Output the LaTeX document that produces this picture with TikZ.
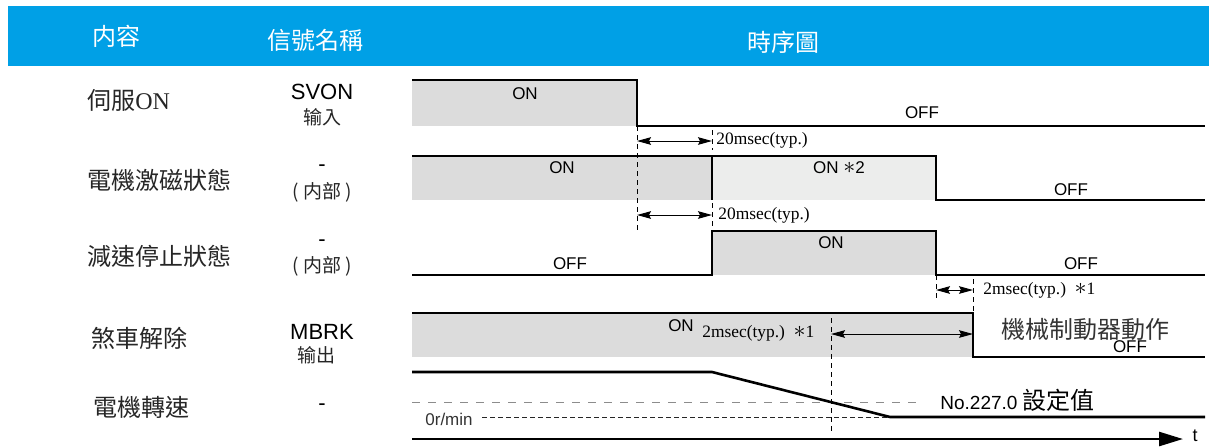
\documentclass[tikz,border=0pt]{standalone}
\usepackage{fontspec}
\setmainfont{Liberation Serif}
\newfontfamily\cjk{Noto Sans CJK TC}
\newfontfamily\arial{Liberation Sans}
\usepackage{xcolor}
\usepackage{tikz}
\usetikzlibrary{arrows.meta}
\definecolor{hdrblue}{RGB}{0,160,230}
\definecolor{shadeA}{RGB}{220,220,220}
\definecolor{shadeB}{RGB}{236,237,236}
\newcommand{\note}[1]{\smash{\fontsize{12}{12}\selectfont$\ast$}#1}
\tikzset{
wave/.style={line width=1.3pt,line join=miter},
dimline/.style={line width=0.5pt,{Stealth[length=7pt,width=3.8pt,inset=1pt]}-{Stealth[length=7pt,width=3.8pt,inset=1pt]}},
guide/.style={line width=0.45pt,dash pattern=on 2.5pt off 2pt},
lvl/.style={font=\arial\fontsize{8.5}{10}\selectfont,inner sep=0pt},
tm/.style={font=\fontsize{8.7}{10}\selectfont,inner sep=0pt,anchor=west},
rowname/.style={font=\cjk\fontsize{12}{14}\selectfont,inner sep=0pt,anchor=west,text=black!85},
signame/.style={font=\arial\fontsize{11}{13}\selectfont,inner sep=0pt},
sigsub/.style={font=\cjk\fontsize{9.5}{11}\selectfont,inner sep=0pt,text=black!85},
hdr/.style={font=\cjk\fontsize{12}{14}\selectfont,text=white,inner sep=0pt}
}
\begin{document}
\begin{tikzpicture}[x=0.5pt,y=-0.5pt]
\useasboundingbox (0,0) rectangle (1209,447);
% header
\fill[hdrblue] (8,6) rectangle (1209,66);
\node[hdr] (hdrContent) at (116,36) {内容};
\node[hdr] (hdrSignal) at (315,40) {信號名稱};
\node[hdr] (hdrTiming) at (783,42) {時序圖};
% row names
\node[rowname] (nameSvon) at (87,100) {伺服\rmfamily ON};
\node[rowname] (nameExcite) at (87,180) {電機激磁狀態};
\node[rowname] (nameDecel) at (87,256) {減速停止狀態};
\node[rowname] (nameBrake) at (91,338) {煞車解除};
\node[rowname] (nameSpeed) at (93,407) {電機轉速};
% signal names
\node[signame] (sigSvon) at (322,92) {SVON};
\node[sigsub] (subSvon) at (322,117) {输入};
\node[signame] (sigExcite) at (322,168) {-};
\node[sigsub] (subExcite) at (322,192) {( 内部 )};
\node[signame] (sigDecel) at (322,243) {-};
\node[sigsub] (subDecel) at (322,266) {( 内部 )};
\node[signame] (sigBrake) at (322,332) {MBRK};
\node[sigsub] (subBrake) at (316,355) {输出};
\node[signame] (sigSpeed) at (322,407) {-};
% SVON
\fill[shadeA] (412,80) rectangle (637,126);
\draw[wave] (412,80)--(637,80)--(637,126)--(1205,126);
\node[lvl] (svonOn) at (525,94) {ON};
\node[lvl] (svonOff) at (922,113) {OFF};
% excitation
\fill[shadeA] (412,156) rectangle (712,200);
\fill[shadeB] (712,156) rectangle (936,200);
\draw[wave] (412,156)--(936,156)--(936,200)--(1205,200);
\draw[wave] (712,156)--(712,200);
\node[lvl] (excOn) at (562,168) {ON};
\node[lvl] (excOnB) at (839,168) {ON \note{2}};
\node[lvl] (excOff) at (1071,190) {OFF};
% deceleration stop
\fill[shadeA] (712,231) rectangle (936,275);
\draw[wave] (412,275)--(712,275)--(712,231)--(936,231)--(936,275)--(1205,275);
\node[lvl] (decOffA) at (570,264) {OFF};
\node[lvl] (decOn) at (831,243) {ON};
\node[lvl] (decOffB) at (1081,264) {OFF};
% brake release
\fill[shadeA] (412,313) rectangle (973,357);
\draw[wave] (412,313)--(973,313)--(973,357)--(1205,357);
\node[lvl] (brkOn) at (681,326) {ON};
\node[lvl] (brkOff) at (1130,347) {OFF};
\node[rowname,anchor=center,text=black!80] (brkMech) at (1085,329) {機械制動器動作};
% motor speed
\draw[black!45,line width=0.5pt,dash pattern=on 4pt off 4pt] (412,402)--(922,402);
\draw[black!85,line width=0.5pt,dash pattern=on 2.5pt off 1.5pt] (482,417)--(890,417);
\node[lvl,text=black!80,font=\arial\fontsize{8.5}{10}\selectfont] (zeroRpm) at (449,419) {0r/min};
\draw[wave] (412,372)--(712,372)--(890,417)--(1205,417);
\node[lvl,anchor=west,font=\arial\fontsize{9.5}{11}\selectfont] (setVal) at (940,400) {No.227.0 {\cjk\fontsize{12}{14}\selectfont 設定值}};
% time axis
\coordinate (axisStart) at (412,439);
\coordinate (axisEnd) at (1183,439);
\draw[line width=1.3pt,-{Triangle[length=12pt,width=7pt]}] (axisStart)--(axisEnd);
\node[font=\arial\fontsize{9}{10}\selectfont,inner sep=0pt] (tLabel) at (1195,436) {t};
% guides and timings
\draw[guide] (637,126)--(637,230);
\draw[guide] (712,130)--(712,150);
\draw[guide] (712,203)--(712,231);
\draw[guide] (936,275)--(936,298);
\draw[guide] (973,279)--(973,313);
\draw[guide] (831,318)--(831,432);
\coordinate (d1a) at (637,141);
\coordinate (d1b) at (712,141);
\draw[dimline] (d1a)--(d1b);
\node[tm] (d1t) at (716,140) {20msec(typ.)};
\coordinate (d2a) at (637,215);
\coordinate (d2b) at (712,215);
\draw[dimline] (d2a)--(d2b);
\node[tm] (d2t) at (718,215) {20msec(typ.)};
\coordinate (d3a) at (936,290);
\coordinate (d3b) at (973,290);
\draw[dimline] (d3a)--(d3b);
\node[tm] (d3t) at (983,290) {2msec(typ.)\ \ \note{1}};
\coordinate (d4a) at (831,334);
\coordinate (d4b) at (973,334);
\draw[dimline] (d4a)--(d4b);
\node[tm] (d4t) at (702,333) {2msec(typ.)\ \ \note{1}};
\end{tikzpicture}
\end{document}
